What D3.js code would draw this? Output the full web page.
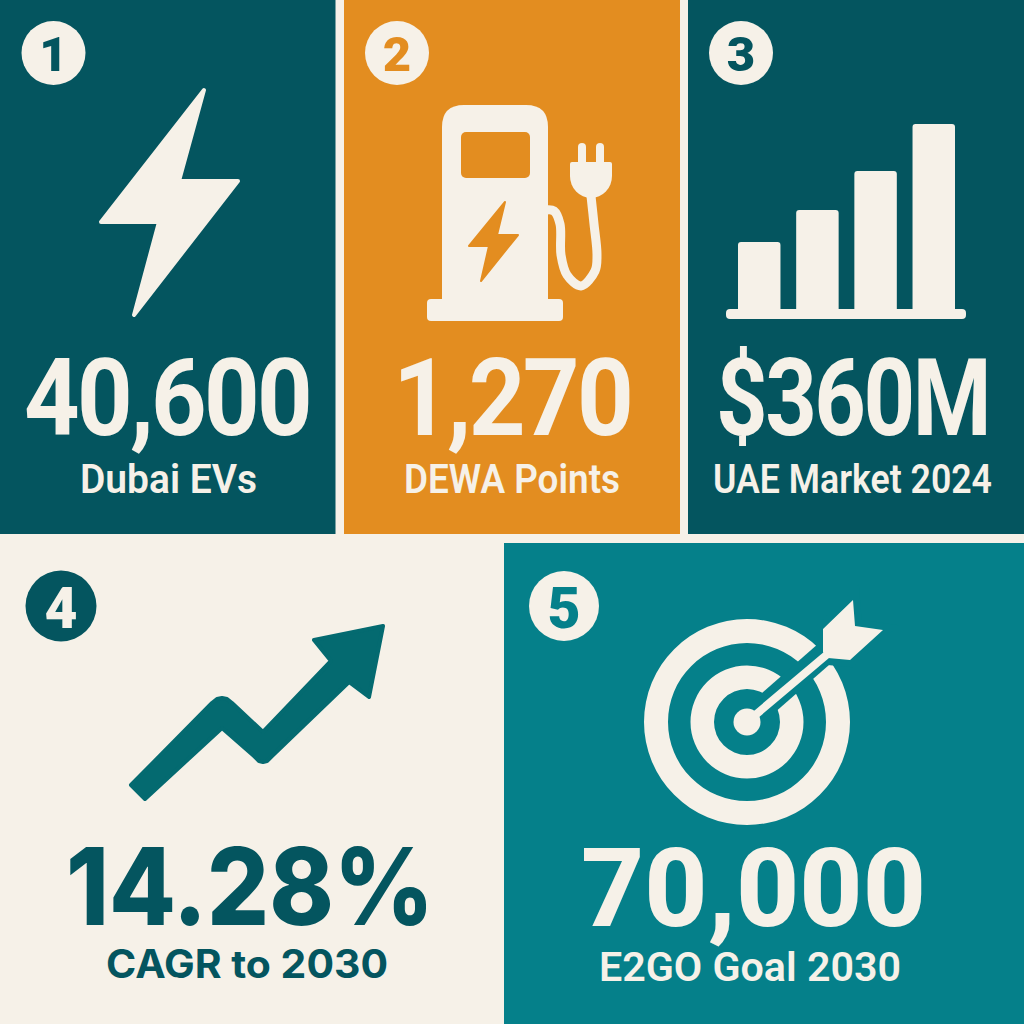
<!DOCTYPE html>
<html>
<head>
<meta charset="utf-8">
<script src="https://cdn.jsdelivr.net/npm/d3@7"></script>
<style>
  html, body { margin: 0; padding: 0; background: #f6f1e8; }
  svg { display: block; }
</style>
</head>
<body>
<script>
// chart content
var badges = ['1', '2', '3', '4', '5'];
var values = ['40,600', '1,270', '$360M', '14.28%', '70,000'];
var labels = ['Dubai EVs', 'DEWA Points', 'UAE Market 2024', 'CAGR to 2030', 'E2GO Goal 2030'];
var barYears = ['a', 'b', 'c', 'd'];
var barValues = [72, 104, 143, 190];

var cream = '#f6f1e8';
var darkTeal = '#04555f';
var orange = '#e38d20';
var teal = '#05808a';
var arrowTeal = '#046a70';

// one row per card, same order as the arrays above
var cards = [
  {x: 0, y: 0, w: 335.5, h: 534, bg: darkTeal, fg: cream, bx: 53.5, by: 53, br: 32, bf: 49, bb: 71},
  {x: 344, y: 0, w: 336, h: 534, bg: orange, fg: cream, bx: 397, by: 53, br: 32, bf: 49, bb: 71},
  {x: 688, y: 0, w: 336, h: 534, bg: darkTeal, fg: cream, bx: 741, by: 53, br: 32, bf: 49, bb: 71},
  {x: 0, y: 543, w: 500, h: 481, bg: cream, fg: darkTeal, bx: 61, by: 606, br: 35.5, bf: 57, bb: 628},
  {x: 504, y: 543, w: 520, h: 481, bg: teal, fg: cream, bx: 564, by: 606, br: 35, bf: 57, bb: 628}
];
var valueText = [
  {x: 24, w: 286, y: 435, size: 107, font: 'Roboto', ls: -3, weight: 700},
  {x: 393, w: 238, y: 435, size: 107, font: 'Roboto', ls: -3, weight: 700},
  {x: 716, w: 273, y: 435, size: 107, font: 'Roboto', ls: -3, weight: 700},
  {x: 66, w: 368, y: 925, size: 107, font: 'Inter', ls: 0, weight: 800},
  {x: 581, w: 345, y: 926, size: 110, font: 'Roboto', ls: 0, weight: 800}
];
var labelText = [
  {x: 80, w: 177, y: 493, size: 40, font: 'Roboto', ls: 0, weight: 600},
  {x: 404, w: 216, y: 493, size: 40, font: 'Roboto', ls: 0, weight: 600},
  {x: 713, w: 279, y: 493, size: 40, font: 'Roboto', ls: 0, weight: 600},
  {x: 106, w: 282, y: 978, size: 39, font: 'Inter', ls: 0, weight: 700},
  {x: 599, w: 302, y: 981, size: 41, font: 'Roboto', ls: 0, weight: 600}
];

var svg = d3.select('body').append('svg').attr('width', 1024).attr('height', 1024);
var poly = d3.line().curve(d3.curveLinearClosed);

svg.append('rect').attr('width', 1024).attr('height', 1024).attr('fill', cream);

svg.selectAll('rect.card').data(cards).enter().append('rect')
  .attr('class', 'card')
  .attr('x', function(d) { return d.x; })
  .attr('y', function(d) { return d.y; })
  .attr('width', function(d) { return d.w; })
  .attr('height', function(d) { return d.h; })
  .attr('fill', function(d) { return d.bg; });

// numbered badges
svg.selectAll('circle.badge').data(cards).enter().append('circle')
  .attr('class', 'badge')
  .attr('cx', function(d) { return d.bx; })
  .attr('cy', function(d) { return d.by; })
  .attr('r', function(d) { return d.br; })
  .attr('fill', function(d) { return d.fg; });

svg.selectAll('text.badge').data(cards).enter().append('text')
  .attr('class', 'badge')
  .attr('x', function(d) { return d.bx; })
  .attr('y', function(d) { return d.bb; })
  .attr('text-anchor', 'middle')
  .attr('font-family', 'Roboto')
  .attr('font-weight', 900)
  .attr('font-size', function(d) { return d.bf; })
  .attr('fill', function(d) { return d.bg; })
  .text(function(d, i) { return badges[i]; });

function drawText(cls, specs, strings) {
  svg.selectAll('text.' + cls).data(specs).enter().append('text')
    .attr('class', cls)
    .attr('x', function(d) { return d.x; })
    .attr('y', function(d) { return d.y; })
    .attr('font-family', function(d) { return d.font; })
    .attr('font-weight', function(d) { return d.weight; })
    .attr('font-size', function(d) { return d.size; })
    .attr('letter-spacing', function(d) { return d.ls; })
    .attr('textLength', function(d) { return d.w; })
    .attr('lengthAdjust', 'spacingAndGlyphs')
    .attr('fill', function(d, i) { return cards[i].fg; })
    .text(function(d, i) { return strings[i]; });
}
drawText('value', valueText, values);
drawText('label', labelText, labels);

// card 1: bolt
function roundedPoly(points, fill, sw) {
  return svg.append('path')
    .attr('d', poly(points))
    .attr('fill', fill)
    .attr('stroke', fill)
    .attr('stroke-width', sw)
    .attr('stroke-linejoin', 'round');
}
roundedPoly([[204, 90], [179, 181], [238, 181], [134, 315], [159, 222], [101, 222]], cream, 4);

// card 2: charging pump
svg.append('path')
  .attr('d', 'M442,303V127Q442,105 464,105H526Q548,105 548,127V303Z')
  .attr('fill', cream);
svg.append('rect').attr('x', 427).attr('y', 299).attr('width', 136).attr('height', 22).attr('rx', 4).attr('fill', cream);
svg.append('rect').attr('x', 461).attr('y', 132).attr('width', 69).attr('height', 46).attr('rx', 5).attr('fill', orange);
roundedPoly([[505, 202], [497, 235], [518, 235], [481, 281], [489, 246], [469, 246]], orange, 2);
svg.append('path')
  .attr('d', d3.line().curve(d3.curveCatmullRom)([[591, 196], [594, 224], [597, 255], [595, 271], [581, 286], [567, 275], [561, 255], [560, 224], [554, 211], [546, 210]]))
  .attr('fill', 'none')
  .attr('stroke', cream)
  .attr('stroke-width', 9);
svg.append('path')
  .attr('d', 'M572,162H610Q612,162 612,164V176A21,22 0 0 1 570,176V164Q570,162 572,162Z')
  .attr('fill', cream);
svg.selectAll('rect.prong').data([578, 596]).enter().append('rect')
  .attr('class', 'prong')
  .attr('x', function(d) { return d; })
  .attr('y', 143)
  .attr('width', 8)
  .attr('height', 24)
  .attr('rx', 4)
  .attr('fill', cream);

// card 3: bars
var xBars = d3.scaleBand().domain(barYears).range([738, 955]).paddingInner(0.27);
var yBars = d3.scaleLinear().domain([0, 190]).range([314, 124]);
svg.selectAll('rect.bar').data(barValues).enter().append('rect')
  .attr('class', 'bar')
  .attr('x', function(d, i) { return xBars(barYears[i]); })
  .attr('y', function(d) { return yBars(d); })
  .attr('width', xBars.bandwidth())
  .attr('height', function(d) { return yBars(0) - yBars(d); })
  .attr('rx', 3)
  .attr('fill', cream);
svg.append('rect').attr('x', 726).attr('y', 309).attr('width', 240).attr('height', 10).attr('rx', 4).attr('fill', cream);

// card 4: growth arrow
roundedPoly([[131, 785], [145, 799], [222, 728], [254, 756], [259, 761], [263, 762], [267, 761], [272, 756], [349, 682], [369, 697], [383, 626], [314, 640], [331, 661], [263, 732], [232, 703], [227, 699], [222, 698], [217, 699], [212, 703]], arrowTeal, 4);

// card 5: target
var cx = 747, cy = 722;
var rings = [[79, 103], [33, 56.5], [0, 13.5]];
var arc = d3.arc().startAngle(0).endAngle(2 * Math.PI);
svg.selectAll('path.ring').data(rings).enter().append('path')
  .attr('class', 'ring')
  .attr('transform', 'translate(' + cx + ',' + cy + ')')
  .attr('d', function(d) { return arc({innerRadius: d[0], outerRadius: d[1]}); })
  .attr('fill', cream);
var fletching = [[823, 629], [853, 600], [855, 626], [883, 630], [850, 660], [828, 658], [823, 652]];
svg.append('line')
  .attr('x1', 760).attr('y1', 710)
  .attr('x2', 840).attr('y2', 640)
  .attr('stroke', teal).attr('stroke-width', 23);
svg.append('path').attr('d', poly(fletching)).attr('fill', teal).attr('stroke', teal).attr('stroke-width', 14);
svg.append('line')
  .attr('x1', cx).attr('y1', cy)
  .attr('x2', 830).attr('y2', 652)
  .attr('stroke', cream).attr('stroke-width', 8);
svg.append('path').attr('d', poly(fletching)).attr('fill', cream);
</script>
</body>
</html>
